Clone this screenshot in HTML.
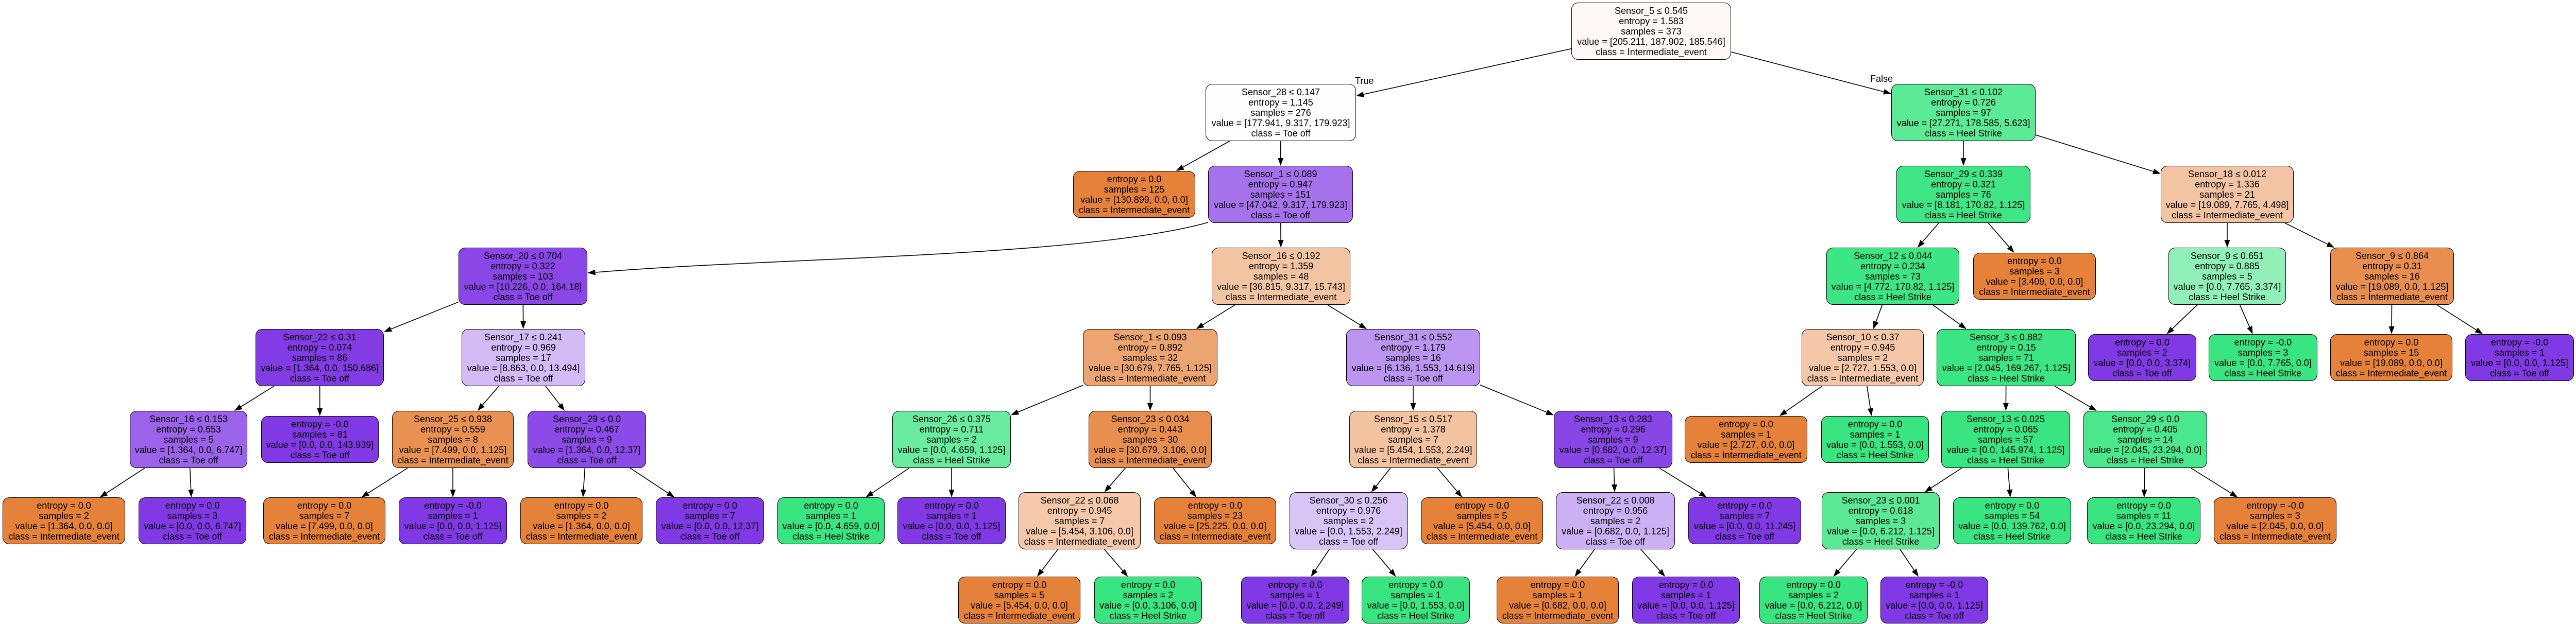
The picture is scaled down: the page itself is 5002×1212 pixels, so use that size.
<!DOCTYPE html>
<html><head><meta charset="utf-8">
<style>
html,body{margin:0;padding:0;background:#fff;}
body{width:5002px;height:1212px;position:relative;overflow:hidden;font-family:"Liberation Sans",Arial,sans-serif;}
.n{position:absolute;box-sizing:border-box;border:1.6px solid #000;border-radius:13px;font-size:18px;line-height:20px;text-align:center;color:#000;display:flex;align-items:center;justify-content:center;white-space:nowrap;}
.d{height:111px;}
.l{height:91px;}
.o{background:#e58139}.p{background:#8139e5}.g{background:#39e581}
svg{position:absolute;left:0;top:0;}
.lab{position:absolute;font-size:18px;line-height:20px;}
</style></head><body>
<svg id="sv" width="5002" height="1212"></svg>
<div class="lab" style="left:2630px;top:147px">True</div>
<div class="lab" style="left:3630px;top:143px">False</div>

<div id="n0" class="n d" style="left:3050px;top:5px;width:310px;background:#fef9f6">Sensor_5 ≤ 0.545<br>entropy = 1.583<br>samples = 373<br>value = [205.211, 187.902, 185.546]<br>class = Intermediate_event</div>
<div id="n1" class="n d" style="left:2340px;top:163px;width:292px;background:#fefefe">Sensor_28 ≤ 0.147<br>entropy = 1.145<br>samples = 276<br>value = [177.941, 9.317, 179.923]<br>class = Toe off</div>
<div id="n2" class="n l o" style="left:2083px;top:332px;width:237px">entropy = 0.0<br>samples = 125<br>value = [130.899, 0.0, 0.0]<br>class = Intermediate_event</div>
<div id="n3" class="n d" style="left:2345px;top:322px;width:281px;background:#a572ec">Sensor_1 ≤ 0.089<br>entropy = 0.947<br>samples = 151<br>value = [47.042, 9.317, 179.923]<br>class = Toe off</div>
<div id="n4" class="n d" style="left:890px;top:481px;width:250px;background:#8a46e7">Sensor_20 ≤ 0.704<br>entropy = 0.322<br>samples = 103<br>value = [10.226, 0.0, 164.18]<br>class = Toe off</div>
<div id="n5" class="n d" style="left:2352px;top:481px;width:269px;background:#f3c4a2">Sensor_16 ≤ 0.192<br>entropy = 1.359<br>samples = 48<br>value = [36.815, 9.317, 15.743]<br>class = Intermediate_event</div>
<div id="n6" class="n d" style="left:496px;top:639px;width:249px;background:#833be5">Sensor_22 ≤ 0.31<br>entropy = 0.074<br>samples = 86<br>value = [1.364, 0.0, 150.686]<br>class = Toe off</div>
<div id="n7" class="n d" style="left:896px;top:639px;width:240px;background:#d4bbf6">Sensor_17 ≤ 0.241<br>entropy = 0.969<br>samples = 17<br>value = [8.863, 0.0, 13.494]<br>class = Toe off</div>
<div id="n8" class="n d" style="left:2102px;top:639px;width:261px;background:#eca470">Sensor_1 ≤ 0.093<br>entropy = 0.892<br>samples = 32<br>value = [30.679, 7.765, 1.125]<br>class = Intermediate_event</div>
<div id="n9" class="n d" style="left:2613px;top:639px;width:260px;background:#bb95f0">Sensor_31 ≤ 0.552<br>entropy = 1.179<br>samples = 16<br>value = [6.136, 1.553, 14.619]<br>class = Toe off</div>
<div id="n10" class="n d" style="left:252px;top:798px;width:228px;background:#9b62ea">Sensor_16 ≤ 0.153<br>entropy = 0.653<br>samples = 5<br>value = [1.364, 0.0, 6.747]<br>class = Toe off</div>
<div id="n11" class="n l p" style="left:507px;top:808px;width:228px">entropy = -0.0<br>samples = 81<br>value = [0.0, 0.0, 143.939]<br>class = Toe off</div>
<div id="n12" class="n d" style="left:761px;top:798px;width:236px;background:#e89152">Sensor_25 ≤ 0.938<br>entropy = 0.559<br>samples = 8<br>value = [7.499, 0.0, 1.125]<br>class = Intermediate_event</div>
<div id="n13" class="n d" style="left:1024px;top:798px;width:230px;background:#8c4ae8">Sensor_29 ≤ 0.0<br>entropy = 0.467<br>samples = 9<br>value = [1.364, 0.0, 12.37]<br>class = Toe off</div>
<div id="n14" class="n d" style="left:1732px;top:798px;width:230px;background:#6aeca0">Sensor_26 ≤ 0.375<br>entropy = 0.711<br>samples = 2<br>value = [0.0, 4.659, 1.125]<br>class = Heel Strike</div>
<div id="n15" class="n d" style="left:2113px;top:798px;width:239px;background:#e88f4f">Sensor_23 ≤ 0.034<br>entropy = 0.443<br>samples = 30<br>value = [30.679, 3.106, 0.0]<br>class = Intermediate_event</div>
<div id="n16" class="n d" style="left:2619px;top:798px;width:248px;background:#f3c3a1">Sensor_15 ≤ 0.517<br>entropy = 1.378<br>samples = 7<br>value = [5.454, 1.553, 2.249]<br>class = Intermediate_event</div>
<div id="n17" class="n d" style="left:3016px;top:798px;width:230px;background:#8946e7">Sensor_13 ≤ 0.283<br>entropy = 0.296<br>samples = 9<br>value = [0.682, 0.0, 12.37]<br>class = Toe off</div>
<div id="n18" class="n d" style="left:3671px;top:163px;width:280px;background:#5bea95">Sensor_31 ≤ 0.102<br>entropy = 0.726<br>samples = 97<br>value = [27.271, 178.585, 5.623]<br>class = Heel Strike</div>
<div id="n19" class="n d" style="left:3681px;top:322px;width:260px;background:#40e686">Sensor_29 ≤ 0.339<br>entropy = 0.321<br>samples = 76<br>value = [8.181, 170.82, 1.125]<br>class = Heel Strike</div>
<div id="n20" class="n d" style="left:4194px;top:322px;width:258px;background:#f3c4a3">Sensor_18 ≤ 0.012<br>entropy = 1.336<br>samples = 21<br>value = [19.089, 7.765, 4.498]<br>class = Intermediate_event</div>
<div id="n21" class="n d" style="left:3545px;top:481px;width:258px;background:#3de684">Sensor_12 ≤ 0.044<br>entropy = 0.234<br>samples = 73<br>value = [4.772, 170.82, 1.125]<br>class = Heel Strike</div>
<div id="n22" class="n l o" style="left:3830px;top:491px;width:238px">entropy = 0.0<br>samples = 3<br>value = [3.409, 0.0, 0.0]<br>class = Intermediate_event</div>
<div id="n23" class="n d" style="left:4209px;top:481px;width:228px;background:#90f0b8">Sensor_9 ≤ 0.651<br>entropy = 0.885<br>samples = 5<br>value = [0.0, 7.765, 3.374]<br>class = Heel Strike</div>
<div id="n24" class="n d" style="left:4523px;top:481px;width:240px;background:#e88e4e">Sensor_9 ≤ 0.864<br>entropy = 0.31<br>samples = 16<br>value = [19.089, 0.0, 1.125]<br>class = Intermediate_event</div>
<div id="n25" class="n d" style="left:3497px;top:639px;width:237px;background:#f3c7a7">Sensor_10 ≤ 0.37<br>entropy = 0.945<br>samples = 2<br>value = [2.727, 1.553, 0.0]<br>class = Intermediate_event</div>
<div id="n26" class="n d" style="left:3759px;top:639px;width:270px;background:#3ae582">Sensor_3 ≤ 0.882<br>entropy = 0.15<br>samples = 71<br>value = [2.045, 169.267, 1.125]<br>class = Heel Strike</div>
<div id="n27" class="n l p" style="left:4053px;top:649px;width:210px">entropy = 0.0<br>samples = 2<br>value = [0.0, 0.0, 3.374]<br>class = Toe off</div>
<div id="n28" class="n l g" style="left:4287px;top:649px;width:211px">entropy = -0.0<br>samples = 3<br>value = [0.0, 7.765, 0.0]<br>class = Heel Strike</div>
<div id="n29" class="n l o" style="left:4523px;top:649px;width:237px">entropy = 0.0<br>samples = 15<br>value = [19.089, 0.0, 0.0]<br>class = Intermediate_event</div>
<div id="n30" class="n l p" style="left:4785px;top:649px;width:211px">entropy = -0.0<br>samples = 1<br>value = [0.0, 0.0, 1.125]<br>class = Toe off</div>
<div id="n31" class="n l o" style="left:3270px;top:808px;width:238px">entropy = 0.0<br>samples = 1<br>value = [2.727, 0.0, 0.0]<br>class = Intermediate_event</div>
<div id="n32" class="n l g" style="left:3535px;top:808px;width:209px">entropy = 0.0<br>samples = 1<br>value = [0.0, 1.553, 0.0]<br>class = Heel Strike</div>
<div id="n33" class="n d" style="left:3768px;top:798px;width:250px;background:#39e581">Sensor_13 ≤ 0.025<br>entropy = 0.065<br>samples = 57<br>value = [0.0, 145.974, 1.125]<br>class = Heel Strike</div>
<div id="n34" class="n d" style="left:4044px;top:798px;width:240px;background:#4be78c">Sensor_29 ≤ 0.0<br>entropy = 0.405<br>samples = 14<br>value = [2.045, 23.294, 0.0]<br>class = Heel Strike</div>
<div id="n35" class="n l o" style="left:5px;top:966px;width:238px">entropy = 0.0<br>samples = 2<br>value = [1.364, 0.0, 0.0]<br>class = Intermediate_event</div>
<div id="n36" class="n l p" style="left:269px;top:966px;width:209px">entropy = 0.0<br>samples = 3<br>value = [0.0, 0.0, 6.747]<br>class = Toe off</div>
<div id="n37" class="n l o" style="left:511px;top:966px;width:237px">entropy = 0.0<br>samples = 7<br>value = [7.499, 0.0, 0.0]<br>class = Intermediate_event</div>
<div id="n38" class="n l p" style="left:774px;top:966px;width:210px">entropy = -0.0<br>samples = 1<br>value = [0.0, 0.0, 1.125]<br>class = Toe off</div>
<div id="n39" class="n l o" style="left:1010px;top:966px;width:237px">entropy = 0.0<br>samples = 2<br>value = [1.364, 0.0, 0.0]<br>class = Intermediate_event</div>
<div id="n40" class="n l p" style="left:1273px;top:966px;width:210px">entropy = 0.0<br>samples = 7<br>value = [0.0, 0.0, 12.37]<br>class = Toe off</div>
<div id="n41" class="n l g" style="left:1509px;top:966px;width:208px">entropy = 0.0<br>samples = 1<br>value = [0.0, 4.659, 0.0]<br>class = Heel Strike</div>
<div id="n42" class="n l p" style="left:1742px;top:966px;width:210px">entropy = 0.0<br>samples = 1<br>value = [0.0, 0.0, 1.125]<br>class = Toe off</div>
<div id="n43" class="n d" style="left:1977px;top:956px;width:237px;background:#f4c8a8">Sensor_22 ≤ 0.068<br>entropy = 0.945<br>samples = 7<br>value = [5.454, 3.106, 0.0]<br>class = Intermediate_event</div>
<div id="n44" class="n l o" style="left:2240px;top:966px;width:237px">entropy = 0.0<br>samples = 23<br>value = [25.225, 0.0, 0.0]<br>class = Intermediate_event</div>
<div id="n45" class="n d" style="left:2503px;top:956px;width:229px;background:#d9c4f7">Sensor_30 ≤ 0.256<br>entropy = 0.976<br>samples = 2<br>value = [0.0, 1.553, 2.249]<br>class = Toe off</div>
<div id="n46" class="n l o" style="left:2758px;top:966px;width:237px">entropy = 0.0<br>samples = 5<br>value = [5.454, 0.0, 0.0]<br>class = Intermediate_event</div>
<div id="n47" class="n d" style="left:3020px;top:956px;width:231px;background:#cbb1f4">Sensor_22 ≤ 0.008<br>entropy = 0.956<br>samples = 2<br>value = [0.682, 0.0, 1.125]<br>class = Toe off</div>
<div id="n48" class="n l p" style="left:3277px;top:966px;width:219px">entropy = 0.0<br>samples = 7<br>value = [0.0, 0.0, 11.245]<br>class = Toe off</div>
<div id="n49" class="n d" style="left:3536px;top:956px;width:229px;background:#5ce996">Sensor_23 ≤ 0.001<br>entropy = 0.618<br>samples = 3<br>value = [0.0, 6.212, 1.125]<br>class = Heel Strike</div>
<div id="n50" class="n l g" style="left:3791px;top:966px;width:229px">entropy = 0.0<br>samples = 54<br>value = [0.0, 139.762, 0.0]<br>class = Heel Strike</div>
<div id="n51" class="n l g" style="left:4051px;top:966px;width:220px">entropy = 0.0<br>samples = 11<br>value = [0.0, 23.294, 0.0]<br>class = Heel Strike</div>
<div id="n52" class="n l o" style="left:4297px;top:966px;width:238px">entropy = -0.0<br>samples = 3<br>value = [2.045, 0.0, 0.0]<br>class = Intermediate_event</div>
<div id="n53" class="n l o" style="left:1860px;top:1120px;width:237px">entropy = 0.0<br>samples = 5<br>value = [5.454, 0.0, 0.0]<br>class = Intermediate_event</div>
<div id="n54" class="n l g" style="left:2124px;top:1120px;width:209px">entropy = 0.0<br>samples = 2<br>value = [0.0, 3.106, 0.0]<br>class = Heel Strike</div>
<div id="n55" class="n l p" style="left:2409px;top:1120px;width:210px">entropy = 0.0<br>samples = 1<br>value = [0.0, 0.0, 2.249]<br>class = Toe off</div>
<div id="n56" class="n l g" style="left:2643px;top:1120px;width:210px">entropy = 0.0<br>samples = 1<br>value = [0.0, 1.553, 0.0]<br>class = Heel Strike</div>
<div id="n57" class="n l o" style="left:2905px;top:1120px;width:237px">entropy = 0.0<br>samples = 1<br>value = [0.682, 0.0, 0.0]<br>class = Intermediate_event</div>
<div id="n58" class="n l p" style="left:3168px;top:1120px;width:209px">entropy = 0.0<br>samples = 1<br>value = [0.0, 0.0, 1.125]<br>class = Toe off</div>
<div id="n59" class="n l g" style="left:3415px;top:1120px;width:210px">entropy = 0.0<br>samples = 2<br>value = [0.0, 6.212, 0.0]<br>class = Heel Strike</div>
<div id="n60" class="n l p" style="left:3650px;top:1120px;width:209px">entropy = -0.0<br>samples = 1<br>value = [0.0, 0.0, 1.125]<br>class = Toe off</div>

<script>
(function(){
var E=[[0,1],[0,18],[1,2],[1,3],[3,5],[4,6],[4,7],[5,8],[5,9],[6,10],[6,11],[7,12],[7,13],[8,14],[8,15],[9,16],[9,17],
[18,19],[18,20],[19,21],[19,22],[20,23],[20,24],[21,25],[21,26],[23,27],[23,28],[24,29],[24,30],[25,31],[25,32],[26,33],[26,34],
[10,35],[10,36],[12,37],[12,38],[13,39],[13,40],[14,41],[14,42],[15,43],[15,44],[16,45],[16,46],[17,47],[17,48],[33,49],[33,50],[34,51],[34,52],
[43,53],[43,54],[45,55],[45,56],[47,57],[47,58],[49,59],[49,60]];
function R(i){var e=document.getElementById('n'+i);var s=e.style;var x=parseFloat(s.left),y=parseFloat(s.top),w=parseFloat(s.width),h=e.classList.contains('d')?111:91;return{cx:x+w/2,cy:y+h/2,hw:w/2,hh:h/2};}
function tc(r,dx,dy){var a=Math.abs(dx)>1e-9?r.hw/Math.abs(dx):1e9,b=Math.abs(dy)>1e-9?r.hh/Math.abs(dy):1e9;return Math.min(a,b);}
var out='';
function arrow(x1,y1,x2,y2){var dx=x2-x1,dy=y2-y1,L=Math.sqrt(dx*dx+dy*dy),ux=dx/L,uy=dy/L,bx=x2-ux*15,by=y2-uy*15;
out+='<line x1="'+x1+'" y1="'+y1+'" x2="'+bx+'" y2="'+by+'" stroke="#000" stroke-width="1.6"/>';
out+='<polygon points="'+x2+','+y2+' '+(bx-uy*5.5)+','+(by+ux*5.5)+' '+(bx+uy*5.5)+','+(by-ux*5.5)+'" fill="#000"/>';}
E.forEach(function(p){var a=R(p[0]),b=R(p[1]);var dx=b.cx-a.cx,dy=b.cy-a.cy;var t1=tc(a,dx,dy),t2=tc(b,dx,dy);
arrow(a.cx+dx*t1,a.cy+dy*t1,b.cx-dx*t2,b.cy-dy*t2);});
out+='<path d="M2345,432 C2100,500 1500,500 1156,529" fill="none" stroke="#000" stroke-width="1.6"/>';
out+='<polygon points="1140,530 1155,523.5 1156,534.5" fill="#000"/>';
document.getElementById('sv').innerHTML=out;
})();
</script>
</body></html>
